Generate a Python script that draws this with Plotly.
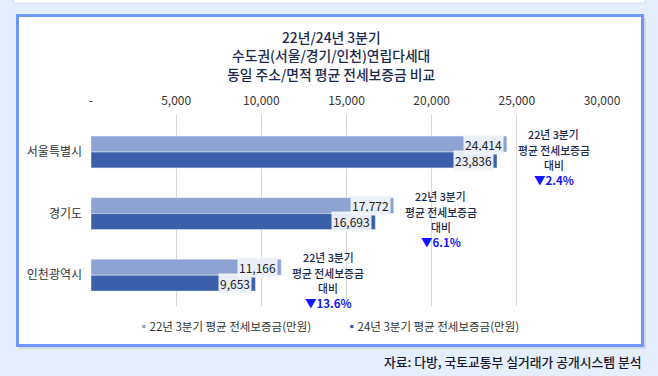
import plotly.graph_objects as go

categories = ["서울특별시", "경기도", "인천광역시"]
series_names = ["22년 3분기 평균 전세보증금(만원)", "24년 3분기 평균 전세보증금(만원)"]
values_22 = [24414, 17772, 11166]
values_24 = [23836, 16693, 9653]
change_pct = ["▼2.4%", "▼6.1%", "▼13.6%"]
note_lines = ["22년 3분기", "평균 전세보증금", "대비"]
title_lines = ["22년/24년 3분기", "수도권(서울/경기/인천)연립다세대", "동일 주소/면적 평균 전세보증금 비교"]
tick_vals = [0, 5000, 10000, 15000, 20000, 25000, 30000]
tick_text = ["-", "5,000", "10,000", "15,000", "20,000", "25,000", "30,000"]

C22 = "#8fa2d4"
C24 = "#3a60aa"
NAVY = "#1b2a4e"
FONT = "Noto Sans CJK KR"

fig = go.Figure()
fig.add_trace(go.Bar(y=categories, x=values_22, orientation="h", name=series_names[0],
                     marker_color=C22, showlegend=False, hoverinfo="skip"))
fig.add_trace(go.Bar(y=categories, x=values_24, orientation="h", name=series_names[1],
                     marker_color=C24, showlegend=False, hoverinfo="skip"))

W, H = 658, 376
L, R, T, B = 91, 56, 114, 70
pw, ph = W - L - R, H - T - B

def px_x(px):
    return (px - L) / pw

def px_y(py):
    return (H - B - py) / ph

shapes = []
# upper card remnant
shapes.append(dict(type="rect", xref="paper", yref="paper",
                   x0=px_x(14), x1=px_x(645), y0=px_y(3), y1=px_y(-20),
                   fillcolor="#ffffff", line=dict(color="#d6e2f3", width=1), layer="below"))
# card shadow
shapes.append(dict(type="rect", xref="paper", yref="paper",
                   x0=px_x(19), x1=px_x(646), y0=px_y(349), y1=px_y(18),
                   fillcolor="#cfd8e6", line=dict(width=0), layer="below"))
# main card
shapes.append(dict(type="rect", xref="paper", yref="paper",
                   x0=px_x(17.5), x1=px_x(642.5), y0=px_y(345.5), y1=px_y(15.5),
                   fillcolor="#ffffff", line=dict(color="#6e97f7", width=3), layer="below"))

annotations = []
# title lines
for i, line in enumerate(title_lines):
    annotations.append(dict(xref="paper", yref="paper", x=px_x(331), y=px_y(36.5 + 18.6 * i),
                            xanchor="center", yanchor="middle", showarrow=False, text=line,
                            font=dict(size=13.8, color=NAVY, family=FONT, weight=500)))

note_shifts = [18, 2, -13]
for cat, v22, v24, pct in zip(categories, values_22, values_24, change_pct):
    annotations.append(dict(x=v22, y=cat, xref="x", yref="y", text=f"{v22:,}",
                            showarrow=False, xanchor="right", xshift=-3, yshift=8,
                            bgcolor="rgba(240,243,249,0.95)", borderpad=1,
                            font=dict(size=12, color="#222222", family=FONT)))
    annotations.append(dict(x=v24, y=cat, xref="x", yref="y", text=f"{v24:,}",
                            showarrow=False, xanchor="right", xshift=-3, yshift=-8,
                            bgcolor="rgba(240,243,249,0.95)", borderpad=1,
                            font=dict(size=12, color="#222222", family=FONT)))
    top = max(v22, v24)
    for line, ys in zip(note_lines, note_shifts):
        annotations.append(dict(x=top, y=cat, xref="x", yref="y", text=line,
                                showarrow=False, xanchor="center", yanchor="middle",
                                xshift=47, yshift=ys,
                                font=dict(size=10.8, color=NAVY, family=FONT, weight=500)))
    annotations.append(dict(x=top, y=cat, xref="x", yref="y", text=pct,
                            showarrow=False, xanchor="center", yanchor="middle",
                            xshift=47, yshift=-28,
                            font=dict(size=11.5, color="#1414ff", family=FONT, weight=700)))

# legend as text
annotations.append(dict(xref="paper", yref="paper", x=px_x(136), y=px_y(326),
                        xanchor="left", yanchor="middle", showarrow=False,
                        text=f"<span style='color:{C22}'>▪</span>{series_names[0]}",
                        font=dict(size=11.5, color="#333333", family=FONT)))
annotations.append(dict(xref="paper", yref="paper", x=px_x(344), y=px_y(326),
                        xanchor="left", yanchor="middle", showarrow=False,
                        text=f"<span style='color:{C24}'>▪</span>{series_names[1]}",
                        font=dict(size=11.5, color="#333333", family=FONT)))
# source
annotations.append(dict(xref="paper", yref="paper", x=px_x(644), y=px_y(361),
                        xanchor="right", yanchor="middle", showarrow=False,
                        text="자료: 다방, 국토교통부 실거래가 공개시스템 분석",
                        font=dict(size=12.8, color="#1a1a2e", family=FONT, weight=500)))

fig.update_layout(
    width=W, height=H,
    margin=dict(l=L, r=R, t=T, b=B, autoexpand=False),
    paper_bgcolor="#e4eefc",
    plot_bgcolor="rgba(0,0,0,0)",
    barmode="group",
    bargap=0.484,
    bargroupgap=0,
    font=dict(family=FONT, color="#333333"),
    xaxis=dict(side="top", range=[0, 30000], tickvals=tick_vals, ticktext=tick_text,
               showgrid=True, gridcolor="#d9d9d9", gridwidth=1, zeroline=False,
               showline=False, ticks="", ticklabelstandoff=6,
               tickfont=dict(size=12, color="#333333", family=FONT), fixedrange=True),
    yaxis=dict(autorange="reversed", showgrid=False, zeroline=False, showline=False,
               ticks="", ticklabelstandoff=8,
               tickfont=dict(size=12, color="#333333", family=FONT)),
    shapes=shapes,
    annotations=annotations,
)

fig.write_html(
    "out.html",
    config={"displayModeBar": False},
    post_script="document.body.style.margin='0';document.body.style.overflow='hidden';"
                "document.documentElement.style.overflow='hidden';",
)
